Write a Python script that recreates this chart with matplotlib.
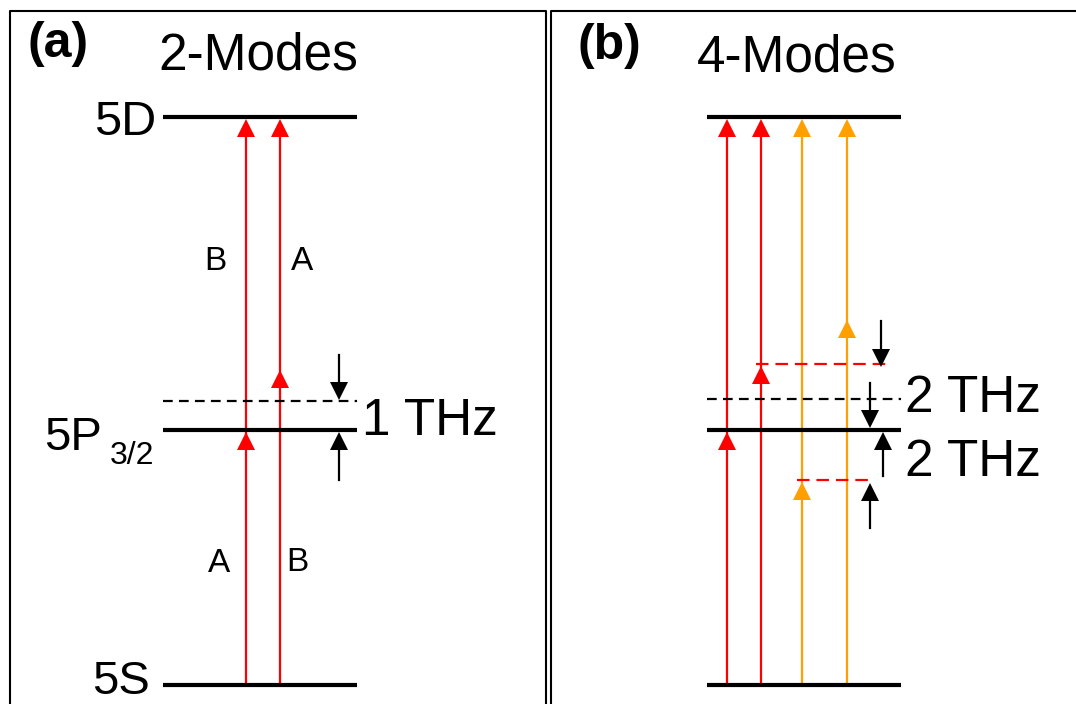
import matplotlib
matplotlib.use("Agg")
import matplotlib.pyplot as plt

plt.rcParams["font.family"] = ["Liberation Sans", "DejaVu Sans"]
plt.rcParams["lines.scale_dashes"] = False

RED = "#ff0000"
ORANGE = "#ffa000"

# vertical positions of the atomic levels on the diagram scale
LEVEL_5S = 19
LEVEL_5P = 274
LEVEL_5D = 587

# (a) two modes, two-photon path via a virtual level 1 THz above 5P3/2
A_VIRTUAL = 303
A_BEAM_X = [246, 280]
A_BEAM_MID = [LEVEL_5P, 336]
A_LOWER_LABELS = ["A", "B"]
A_UPPER_LABELS = ["B", "A"]

# (b) four modes with sidebands 2 THz either side
B_VIRTUAL = 305
B_BEAM_X = [727, 761, 802, 847]
B_BEAM_MID = [LEVEL_5P, 340, 224, 386]
B_BEAM_COLORS = [RED, RED, ORANGE, ORANGE]
B_SIDEBANDS = [340, 224]

HEAD_MS = 13.5                    # marker size in points
HEAD = HEAD_MS * 100 / 72         # same in pixels / data units
GAP = 2                           # heads stop at the edge of the level line


def head(ax, x, tip, color, up=True):
    # triangle markers are centred on their box, so step back half a head
    if up:
        ax.plot(x, tip - HEAD / 2, marker="^", ms=HEAD_MS, color=color,
                mew=0, zorder=4)
    else:
        ax.plot(x, tip + HEAD / 2, marker="v", ms=HEAD_MS, color=color,
                mew=0, zorder=4)


def beam(ax, x, mid, color):
    top = LEVEL_5D - GAP
    ax.plot([x, x], [LEVEL_5S, top - HEAD + 1], color=color, lw=1.6, zorder=2)
    head(ax, x, mid - GAP, color)
    head(ax, x, top, color)


def marker_arrow(ax, x, tail, tip):
    up = tip > tail
    base = tip - HEAD + 1 if up else tip + HEAD - 1
    ax.plot([x, x], [tail, base], color="black", lw=1.6, zorder=4)
    head(ax, x, tip, "black", up=up)


def level(ax, x0, x1, y, **kw):
    style = dict(color="black", lw=3, solid_capstyle="butt", zorder=3)
    style.update(kw)
    ax.plot([x0, x1], [y, y], **style)


fig = plt.figure(figsize=(10.76, 7.04), dpi=100)
ax = fig.add_axes([0, 0, 1, 1])
ax.set_xlim(0, 1076)
ax.set_ylim(0, 704)
ax.axis("off")

# panel frames (open at the bottom / right edge of the figure)
ax.plot([10, 10, 546, 546], [-10, 693, 693, -10], color="black", lw=1.5)
ax.plot([551, 551, 1090], [-10, 693, 693], color="black", lw=1.5)

# ---- (a) ----
for y in (LEVEL_5S, LEVEL_5P, LEVEL_5D):
    level(ax, 163, 357, y)
level(ax, 163, 357, A_VIRTUAL, lw=1.6, dashes=(7, 4.5))

for x, mid in zip(A_BEAM_X, A_BEAM_MID):
    beam(ax, x, mid, RED)

for x, lab, y in zip([219, 297], A_LOWER_LABELS, [132, 133]):
    ax.text(x, y, lab, fontsize=24, ha="center", va="baseline")
for x, lab in zip([215, 302], A_UPPER_LABELS):
    ax.text(x, 434, lab, fontsize=24, ha="center", va="baseline")

marker_arrow(ax, 339, 349, A_VIRTUAL + 1)
marker_arrow(ax, 339, 224, LEVEL_5P - GAP)

ax.text(156, 569, "5D", fontsize=35, ha="right", va="baseline")
ax.text(102, 254, "5P", fontsize=34, ha="right", va="baseline")
ax.text(110, 240, "3/2", fontsize=23, ha="left", va="baseline")
ax.text(150, 10, "5S", fontsize=34, ha="right", va="baseline")
ax.text(362, 269, "1 THz", fontsize=37, ha="left", va="baseline")

ax.text(27, 647, "(a)", fontsize=36, fontweight="bold", va="baseline")
ax.text(158, 635, "2-Modes", fontsize=37, va="baseline")

# ---- (b) ----
for y in (LEVEL_5S, LEVEL_5P, LEVEL_5D):
    level(ax, 707, 901, y)
level(ax, 707, 901, B_VIRTUAL, lw=1.6, dashes=(7, 4.5))
level(ax, 756, 889, B_SIDEBANDS[0], color=RED, lw=1.6, dashes=(9, 5))
level(ax, 797, 870, B_SIDEBANDS[1], color=RED, lw=1.6, dashes=(9, 5))

for x, mid, c in zip(B_BEAM_X, B_BEAM_MID, B_BEAM_COLORS):
    beam(ax, x, mid, c)

marker_arrow(ax, 881, 383, B_SIDEBANDS[0] - 3)
marker_arrow(ax, 870, 321, LEVEL_5P + GAP)
marker_arrow(ax, 883, 228, LEVEL_5P - GAP)
marker_arrow(ax, 870, 176, B_SIDEBANDS[1] - 3)

ax.text(905, 292, "2 THz", fontsize=37, ha="left", va="baseline")
ax.text(905, 228, "2 THz", fontsize=37, ha="left", va="baseline")

ax.text(578, 645, "(b)", fontsize=36, fontweight="bold", va="baseline")
ax.text(697, 633, "4-Modes", fontsize=37, va="baseline")

fig.savefig("out.png", dpi=100)
